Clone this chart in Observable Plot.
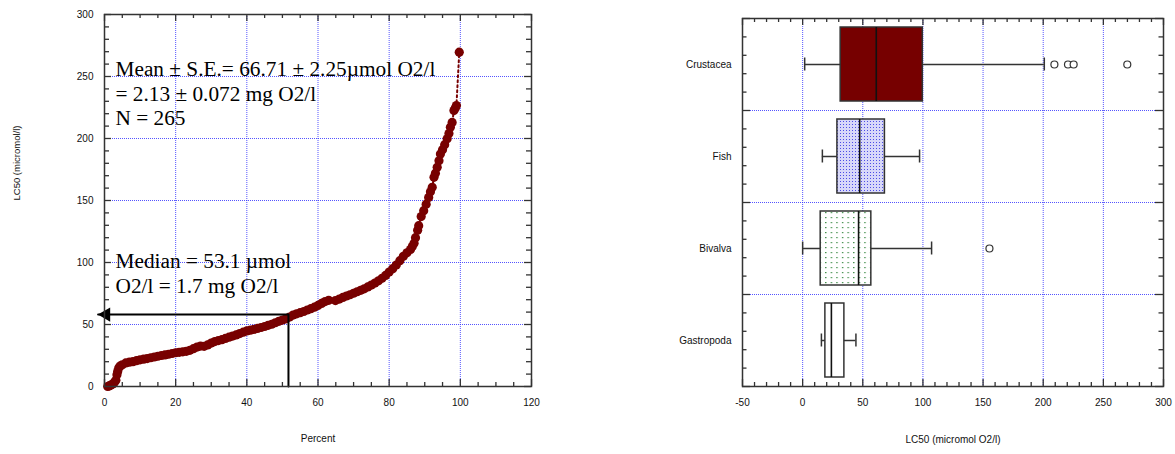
<!DOCTYPE html>
<html><head><meta charset="utf-8">
<script src="https://cdn.jsdelivr.net/npm/d3@7"></script>
<script src="https://cdn.jsdelivr.net/npm/@observablehq/plot@0.6"></script>
<style>
body{margin:0;background:#fff;}
#wrap{display:flex;width:1175px;height:454px;overflow:hidden;}
#wrap svg{overflow:visible;}
</style></head><body><div id="wrap"></div>
<script>
// ---------- Left chart data (cumulative distribution of LC50) ----------
const percent = [0.9,1.3,1.8,2.3,2.8,3.2,3.5,3.7,4.0,4.4,5,6,7,8,9,10,11,12,13,14,15,16,17,18,19,20,21,22,23,24,25,26,27,28,29,30,31,32,33,34,35,36,37,38,39,40,41,42,43,44,45,46,47,48,49,50,51,52,53,54,55,56,57,58,59,60,61,62,63,64.9,66,67,68,69,70,71,72,73,74,75,76,77,78,79,80,81,82,83,84,85,86,86.5,87,87.4,88,88.3,89,89.7,90.4,91.1,91.6,92.1,92.6,93,93.5,94,94.4,95,95.6,96.3,96.8,97.2,97.7,98.2,98.6,98.9,99.7];
const lc50 = [0,0.5,1.2,2,3.5,5,9.5,12,15,16.5,17.5,19,19.6,20,20.8,21.5,22,22.5,23.2,23.8,24.4,25,25.5,26,26.6,27.2,27.6,28,28.4,29.2,30.5,31.8,32.6,32.4,33.5,35,36.2,37,37.8,38.8,39.8,40.7,41.6,42.7,43.8,44.8,45.4,46,46.8,47.6,48.4,49.3,50.2,51.4,52.6,53.6,54.6,56,57.6,58.6,59.5,60.5,61.7,62.8,64,65.4,67,68.5,69.5,69.3,70.5,71.8,73,74,75.2,76.4,77.6,78.8,80.3,81.8,83.4,85.2,87.3,89.6,92.3,95,98,101.5,105,107.8,110.5,113,115.5,120,126,129.7,137,141.8,147,152.5,157,160.6,168.7,172,176.8,182,187.5,191,195,199.7,204,209,213,222.5,224.5,226.6,269.6];
const pctTicks = [0,20,40,60,80,100,120];
const lcTicks = [0,50,100,150,200,250,300];
const meanLines = ["Mean ± S.E.= 66.71 ± 2.25µmol O2/l", "= 2.13 ± 0.072 mg O2/l", "N = 265"];
const medianLines = ["Median = 53.1 µmol", "O2/l = 1.7 mg O2/l"];
const meanLabelAt = {percent: 3.1, lc50: 264.4};
const medianLabelAt = {percent: 3.1, lc50: 109.2};
const medianArrow = {tipPercent: -1.8, percent: 51.7, lc50: 58};

// ---------- Right chart data (box plots by group) ----------
const groups = ["Crustacea", "Fish", "Bivalva", "Gastropoda"];
const q1 = [31.6, 28.9, 15.0, 18.9];
const med = [61.2, 47.4, 46.5, 23.9];
const q3 = [99.9, 68.4, 57.1, 34.7];
const whiskLo = [1.7, 16.4, 0.0, 15.6];
const whiskHi = [200.9, 97.2, 107.2, 44.3];
const outlierGroup = ["Crustacea", "Crustacea", "Crustacea", "Crustacea", "Bivalva"];
const outlierValue = [209.3, 220.6, 225.3, 269.9, 155.3];
const boxTicks = [-50, 0, 50, 100, 150, 200, 250, 300];
const boxFills = ["#760000", "url(#fishPat)", "url(#bivPat)", "white"];

// ---------- shared styles ----------
const H = 454;
const gridStyle = {stroke: "#2a2aff", strokeOpacity: 0.8, strokeDasharray: "1,1", strokeWidth: 1};
const tickColor = "#333";
const fontSans = "'Liberation Sans', Arial, sans-serif";
const fontSerif = "'Liberation Serif', 'Times New Roman', serif";
const plain = d => String(d);

function inwardX(vals, len, fh) {
  return [
    Plot.tickX(vals, {x: d => d, insetTop: fh - len, stroke: tickColor, strokeWidth: 1.3}),
    Plot.tickX(vals, {x: d => d, insetBottom: fh - len, stroke: tickColor, strokeWidth: 1.3})
  ];
}
function inwardY(vals, len, fw) {
  return [
    Plot.tickY(vals, {y: d => d, insetRight: fw - len, stroke: tickColor, strokeWidth: 1.3}),
    Plot.tickY(vals, {y: d => d, insetLeft: fw - len, stroke: tickColor, strokeWidth: 1.3})
  ];
}

// ---------- Left plot ----------
const W1 = 560, mL1 = 104, mR1 = 29, mT1 = 14, mB1 = 68;
const fw1 = W1 - mL1 - mR1, fh1 = H - mT1 - mB1;
const pts = percent.map((p, i) => ({p, v: lc50[i]}));
const xMinor1 = d3.range(0, 121, 5).filter(d => d % 20 !== 0);
const yMinor1 = d3.range(0, 301, 10).filter(d => d % 50 !== 0);
const arrowPath = [
  {p: medianArrow.tipPercent, v: medianArrow.lc50},
  {p: medianArrow.percent, v: medianArrow.lc50},
  {p: medianArrow.percent, v: 0}
];
const annot = {textAnchor: "start", lineAnchor: "top", fontFamily: fontSerif, fontSize: 21.3, lineHeight: 1.15, fill: "black"};

const p1 = Plot.plot({
  width: W1, height: H,
  marginLeft: mL1, marginRight: mR1, marginTop: mT1, marginBottom: mB1,
  style: {fontFamily: fontSans, fontSize: "10px", color: "#111", background: "white", overflow: "visible"},
  x: {domain: [0, 120], axis: null},
  y: {domain: [0, 300], axis: null},
  marks: [
    Plot.ruleX(pctTicks.filter(d => d > 0 && d < 120), gridStyle),
    Plot.ruleY(lcTicks.filter(d => d > 0 && d < 300), gridStyle),
    ...inwardX(xMinor1, 4, fh1), ...inwardX(pctTicks, 7, fh1),
    ...inwardY(yMinor1, 5, fw1), ...inwardY(lcTicks, 7, fw1),
    Plot.axisX(pctTicks, {tickSize: 0, tickPadding: 12, label: null, fontSize: 10, tickFormat: plain}),
    Plot.axisY(lcTicks, {tickSize: 0, tickPadding: 11, label: null, fontSize: 10, tickFormat: plain}),
    Plot.line(pts, {x: "p", y: "v", stroke: "#780000", strokeWidth: 2, strokeDasharray: "2,3"}),
    Plot.dot(pts, {x: "p", y: "v", r: 4.6, fill: "#780000", stroke: "none"}),
    Plot.line(arrowPath, {x: "p", y: "v", stroke: "black", strokeWidth: 2}),
    Plot.dot([arrowPath[0]], {x: "p", y: "v", symbol: "triangle", rotate: -90, r: 5.3, dx: 8, fill: "black", stroke: "none"}),
    Plot.text([meanLines.join("\n")], {x: () => meanLabelAt.percent, y: () => meanLabelAt.lc50, text: d => d, ...annot}),
    Plot.text([medianLines.join("\n")], {x: () => medianLabelAt.percent, y: () => medianLabelAt.lc50, text: d => d, ...annot}),
    Plot.text(["LC50 (micromol/l)"], {frameAnchor: "left", text: d => d, rotate: -90, dx: -88, fontSize: 9.5, fill: "#111"}),
    Plot.text(["Percent"], {frameAnchor: "bottom", text: d => d, dy: 55, fontSize: 10, fill: "#111"}),
    Plot.frame({stroke: "#333", strokeWidth: 1.5})
  ]
});

// ---------- Right plot ----------
const W2 = 615, mL2 = 182, mR2 = 12, mT2 = 18, mB2 = 68;
const fw2 = W2 - mL2 - mR2, fh2 = H - mT2 - mB2;
const boxes = groups.map((g, i) => ({g, yc: i + 0.5, q1: q1[i], med: med[i], q3: q3[i], lo: whiskLo[i], hi: whiskHi[i], fill: boxFills[i]}));
const outliers = outlierGroup.map((g, i) => ({yc: groups.indexOf(g) + 0.5, v: outlierValue[i]}));
const xMinor2 = d3.range(-50, 301, 10).filter(d => (d + 50) % 50 !== 0);
const yMinor2 = d3.range(0, 20).map(d => d / 5).filter(d => !Number.isInteger(d));
const boxEdge = {stroke: "#333", strokeWidth: 1.5};
const inBand = {y1: d => d.yc - 0.5, y2: d => d.yc + 0.5};

const p2 = Plot.plot({
  width: W2, height: H,
  marginLeft: mL2, marginRight: mR2, marginTop: mT2, marginBottom: mB2,
  style: {fontFamily: fontSans, fontSize: "10px", color: "#111", background: "white", overflow: "visible"},
  x: {domain: [-50, 300], axis: null},
  y: {domain: [0, 4], reverse: true, axis: null},
  color: {type: "identity"},
  marks: [
    Plot.ruleX(boxTicks.filter(d => d > -50 && d < 300), gridStyle),
    Plot.ruleY([1, 2, 3], gridStyle),
    ...inwardX(xMinor2, 4, fh2), ...inwardX(boxTicks, 7, fh2),
    ...inwardY(yMinor2, 4.5, fw2), ...inwardY([0, 1, 2, 3, 4], 8, fw2),
    Plot.axisX(boxTicks, {tickSize: 0, tickPadding: 12, label: null, fontSize: 10, tickFormat: plain}),
    Plot.axisY(boxes.map(d => d.yc), {tickSize: 0, tickPadding: 11, label: null, fontSize: 10, tickFormat: d => groups[Math.floor(d)]}),
    Plot.ruleY(boxes, {y: "yc", x1: "lo", x2: "hi", ...boxEdge}),
    Plot.ruleX(boxes, {x: "lo", ...inBand, insetTop: 39.5, insetBottom: 39.5, ...boxEdge}),
    Plot.ruleX(boxes, {x: "hi", ...inBand, insetTop: 39.5, insetBottom: 39.5, ...boxEdge}),
    Plot.rect(boxes, {x1: "q1", x2: "q3", ...inBand, insetTop: 9, insetBottom: 9, fill: "fill", ...boxEdge}),
    Plot.ruleX(boxes, {x: "med", ...inBand, insetTop: 9, insetBottom: 9, stroke: "#111", strokeWidth: 1.6}),
    Plot.dot(outliers, {x: "v", y: "yc", r: 3.5, fill: "white", stroke: "#333", strokeWidth: 1.2}),
    Plot.text(["LC50 (micromol O2/l)"], {frameAnchor: "bottom", text: d => d, dy: 56, fontSize: 10, fill: "#111"}),
    Plot.frame({stroke: "#333", strokeWidth: 1.5})
  ]
});

// patterns for the Fish and Bivalva boxes
const defs = `
<defs>
  <pattern id="fishPat" patternUnits="userSpaceOnUse" width="3" height="3">
    <rect width="3" height="3" fill="#d8d8fa"/>
    <rect x="1" y="1" width="1" height="1" fill="#4e4ee6"/>
  </pattern>
  <pattern id="bivPat" patternUnits="userSpaceOnUse" width="5.6" height="5">
    <rect width="5.6" height="5" fill="white"/>
    <rect x="2" y="2" width="1.2" height="1.2" fill="#1f7a2a"/>
  </pattern>
</defs>`;
p2.insertAdjacentHTML("afterbegin", defs);

const wrap = document.getElementById("wrap");
wrap.appendChild(p1);
wrap.appendChild(p2);
</script>
</body></html>
